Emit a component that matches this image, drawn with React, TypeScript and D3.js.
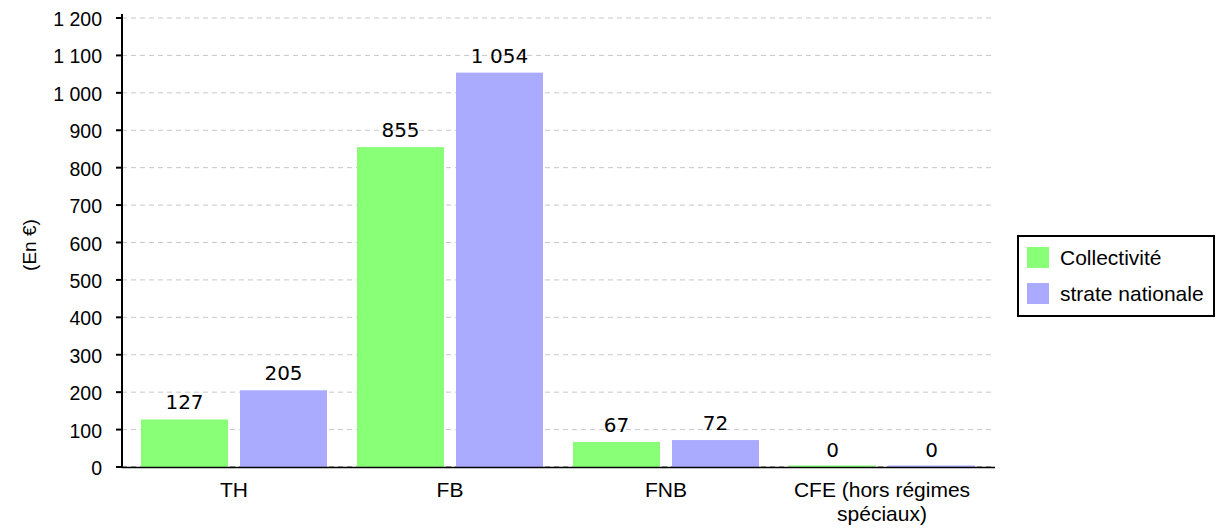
import React from "react";
import * as d3 from "d3";

const categories = ["TH", "FB", "FNB", "CFE (hors régimes|spéciaux)"];
const collectivite = [127, 855, 67, 0];
const strate = [205, 1054, 72, 0];
const seriesNames = ["Collectivité", "strate nationale"];
const colors = ["#88ff77", "#aaaaff"];
const yTicks = [0, 100, 200, 300, 400, 500, 600, 700, 800, 900, 1000, 1100, 1200];

const fmt = (v: number) => d3.format(",")(v).replace(/,/g, " ");

export default function App() {
  const W = 1222, H = 528;
  const axisX = 122, plotRight = 995;
  const y = d3.scaleLinear().domain([0, 1200]).range([467, 18]);
  const x = d3.scaleBand<string>().domain(categories).range([126, 990]).paddingInner(0).paddingOuter(0);
  const groupPad = 15, barGap = 12;
  const barW = (x.bandwidth() - 2 * groupPad - barGap) / 2;
  const series = [collectivite, strate];
  const font = "'Liberation Sans', Arial, sans-serif";
  return (
    <svg width={W} height={H} style={{ position: "absolute", left: 0, top: 0, background: "#fff" }}>
      {yTicks.map((t) => (
        <g key={t}>
          <line x1={axisX} x2={plotRight} y1={y(t)} y2={y(t)} stroke={t === 0 ? "#555" : "#c8c8c8"} strokeWidth={1} strokeDasharray="5,4" />
          <line x1={axisX - 6} x2={axisX} y1={y(t)} y2={y(t)} stroke="#000" strokeWidth={2} />
          <text x={axisX - 20} y={y(t) + 8} textAnchor="end" fontFamily={font} fontSize={19.5} fill="#000">{fmt(t)}</text>
        </g>
      ))}
      {categories.map((c, ci) => (
        <g key={c}>
          {series.map((s, si) => {
            const bx = (x(c) as number) + groupPad + si * (barW + barGap);
            const top = Math.min(y(s[ci]), y(0) - 1.5);
            return (
              <g key={si}>
                <rect x={bx} y={top} width={barW} height={y(0) - top} fill={colors[si]} />
                <text x={bx + barW / 2} y={y(s[ci]) - 10} textAnchor="middle" fontFamily="'DejaVu Sans', sans-serif" fontSize={20} fill="#000">{fmt(s[ci])}</text>
              </g>
            );
          })}
          {c.split("|").map((line, li) => (
            <text key={li} x={(x(c) as number) + x.bandwidth() / 2} y={497 + li * 24} textAnchor="middle" fontFamily={font} fontSize={21} fill="#000">{line}</text>
          ))}
        </g>
      ))}
      <line x1={axisX} x2={plotRight} y1={y(0) + 0.5} y2={y(0) + 0.5} stroke="#000" strokeWidth={1.5} />
      <line x1={axisX} x2={axisX} y1={y(1200) - 4} y2={y(0) + 1} stroke="#000" strokeWidth={2} />
      <text transform={`translate(36,${245}) rotate(-90)`} textAnchor="middle" fontFamily={font} fontSize={19} fill="#000">(En €)</text>
      <rect x={1018} y={236} width={196} height={80} fill="#fff" stroke="#000" strokeWidth={2} />
      {seriesNames.map((n, i) => (
        <g key={n}>
          <rect x={1027} y={247 + i * 36} width={22} height={21} fill={colors[i]} />
          <text x={1060} y={265 + i * 36} fontFamily={font} fontSize={21} fill="#000">{n}</text>
        </g>
      ))}
    </svg>
  );
}
